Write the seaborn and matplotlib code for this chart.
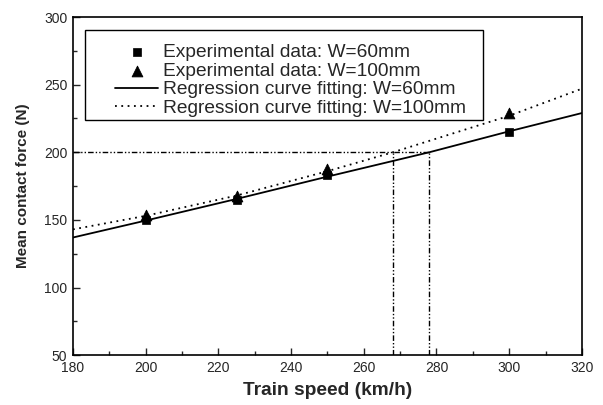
import matplotlib
matplotlib.use("Agg")
import matplotlib.pyplot as plt
import seaborn as sns
import pandas as pd
from matplotlib.ticker import MultipleLocator
from matplotlib.patches import Rectangle

# Experimental data
speed = [200, 225, 250, 300]
force_w60 = [150, 165, 183, 215]
force_w100 = [154, 168, 188, 229]

# Regression curves
fit_speed_w60 = [180, 200, 225, 250, 278, 300, 320]
fit_force_w60 = [137, 149.5, 165.5, 182, 200, 215.5, 229]
fit_speed_w100 = [180, 200, 225, 250, 268, 300, 320]
fit_force_w100 = [143, 153, 168, 186, 200, 227, 247]

# Reference lines
ref_force = 200
ref_speeds = [268, 278]

labels = ["Experimental data: W=60mm", "Experimental data: W=100mm",
          "Regression curve fitting: W=60mm", "Regression curve fitting: W=100mm"]

sns.set_style("ticks")
plt.rcParams['font.family'] = ['Liberation Sans', 'DejaVu Sans']

fig = plt.figure(figsize=(6.03, 4.05), dpi=100)
ax = fig.add_axes([0.121, 0.123, 0.844, 0.835])

df60 = pd.DataFrame({"x": speed, "y": force_w60})
df100 = pd.DataFrame({"x": speed, "y": force_w100})
f60 = pd.DataFrame({"x": fit_speed_w60, "y": fit_force_w60})
f100 = pd.DataFrame({"x": fit_speed_w100, "y": fit_force_w100})

dashdot = (0, (4, 1.5, 1, 1.5, 1, 1.5))
ax.plot([180, max(ref_speeds)], [ref_force, ref_force], color="black", lw=1.0,
        linestyle=dashdot, zorder=1)
for s in ref_speeds:
    ax.plot([s, s], [50, ref_force], color="black", lw=1.0,
            linestyle=dashdot, zorder=1)

sns.scatterplot(data=df60, x="x", y="y", marker="s", s=38, color="black",
                edgecolor="black", ax=ax, label=labels[0], zorder=3)
sns.scatterplot(data=df100, x="x", y="y", marker="^", s=60, color="black",
                edgecolor="black", ax=ax, label=labels[1], zorder=3)
sns.lineplot(data=f60, x="x", y="y", color="black", lw=1.3, ax=ax,
             label=labels[2], zorder=2)
sns.lineplot(data=f100, x="x", y="y", color="black", lw=1.3, ax=ax,
             linestyle=(0, (1, 2.5)), label=labels[3], zorder=2)

ax.set_xlim(180, 320)
ax.set_ylim(50, 300)
ax.xaxis.set_major_locator(MultipleLocator(20))
ax.xaxis.set_minor_locator(MultipleLocator(10))
ax.yaxis.set_major_locator(MultipleLocator(50))
ax.yaxis.set_minor_locator(MultipleLocator(25))
ax.tick_params(which="both", direction="in", top=False, right=False, labelsize=10)
ax.tick_params(which="major", length=5, width=1, pad=4)
ax.tick_params(which="minor", length=3, width=1)
for sp in ax.spines.values():
    sp.set_linewidth(1.2)
    sp.set_color("black")

ax.set_xlabel("Train speed (km/h)", fontsize=13.8, fontweight="bold", labelpad=5)
ax.set_ylabel("Mean contact force (N)", fontsize=11, fontweight="bold", labelpad=10)

# legend frame drawn as a separate box
ax.add_patch(Rectangle((183.3, 223.8), 292.8 - 183.3, 290.4 - 223.8,
                       fill=True, facecolor="white", edgecolor="black",
                       lw=1.0, zorder=4))
leg = ax.legend(loc="upper left", bbox_to_anchor=(0.0825, 0.921), fontsize=13.8,
                frameon=False, handlelength=2.25, handletextpad=0.27,
                borderpad=0, labelspacing=0.06, borderaxespad=0)
leg.set_zorder(5)

fig.savefig("out.png", dpi=100)
